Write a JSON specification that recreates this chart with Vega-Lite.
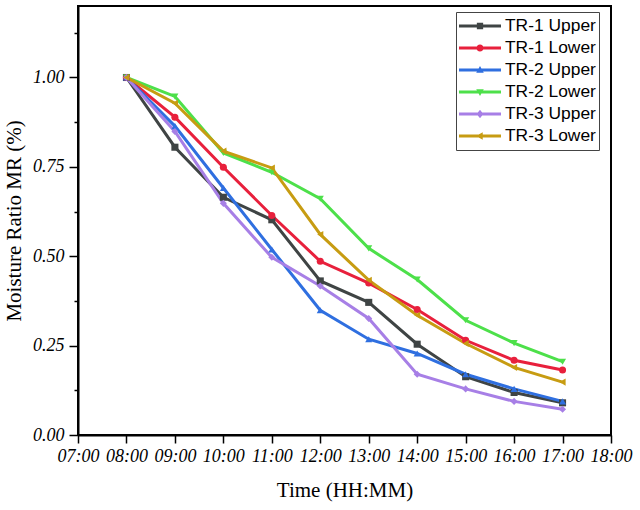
{
  "$schema": "https://vega.github.io/schema/vega-lite/v6.json",
  "width": 533,
  "height": 429,
  "autosize": "none",
  "padding": {"left": 78, "top": 6, "right": 29, "bottom": 75},
  "background": "white",
  "data": {
    "values": [
      {"hour": 8, "series": "TR-1 Upper", "mr": 1.0},
      {"hour": 9, "series": "TR-1 Upper", "mr": 0.805},
      {"hour": 10, "series": "TR-1 Upper", "mr": 0.665},
      {"hour": 11, "series": "TR-1 Upper", "mr": 0.602},
      {"hour": 12, "series": "TR-1 Upper", "mr": 0.431},
      {"hour": 13, "series": "TR-1 Upper", "mr": 0.371},
      {"hour": 14, "series": "TR-1 Upper", "mr": 0.254},
      {"hour": 15, "series": "TR-1 Upper", "mr": 0.163},
      {"hour": 16, "series": "TR-1 Upper", "mr": 0.119},
      {"hour": 17, "series": "TR-1 Upper", "mr": 0.09},
      {"hour": 8, "series": "TR-1 Lower", "mr": 1.0},
      {"hour": 9, "series": "TR-1 Lower", "mr": 0.889},
      {"hour": 10, "series": "TR-1 Lower", "mr": 0.749},
      {"hour": 11, "series": "TR-1 Lower", "mr": 0.614},
      {"hour": 12, "series": "TR-1 Lower", "mr": 0.486},
      {"hour": 13, "series": "TR-1 Lower", "mr": 0.425},
      {"hour": 14, "series": "TR-1 Lower", "mr": 0.351},
      {"hour": 15, "series": "TR-1 Lower", "mr": 0.265},
      {"hour": 16, "series": "TR-1 Lower", "mr": 0.209},
      {"hour": 17, "series": "TR-1 Lower", "mr": 0.182},
      {"hour": 8, "series": "TR-2 Upper", "mr": 1.0},
      {"hour": 9, "series": "TR-2 Upper", "mr": 0.864},
      {"hour": 10, "series": "TR-2 Upper", "mr": 0.691},
      {"hour": 11, "series": "TR-2 Upper", "mr": 0.519},
      {"hour": 12, "series": "TR-2 Upper", "mr": 0.349},
      {"hour": 13, "series": "TR-2 Upper", "mr": 0.268},
      {"hour": 14, "series": "TR-2 Upper", "mr": 0.228},
      {"hour": 15, "series": "TR-2 Upper", "mr": 0.17},
      {"hour": 16, "series": "TR-2 Upper", "mr": 0.129},
      {"hour": 17, "series": "TR-2 Upper", "mr": 0.094},
      {"hour": 8, "series": "TR-2 Lower", "mr": 1.0},
      {"hour": 9, "series": "TR-2 Lower", "mr": 0.947},
      {"hour": 10, "series": "TR-2 Lower", "mr": 0.789},
      {"hour": 11, "series": "TR-2 Lower", "mr": 0.735},
      {"hour": 12, "series": "TR-2 Lower", "mr": 0.661},
      {"hour": 13, "series": "TR-2 Lower", "mr": 0.522},
      {"hour": 14, "series": "TR-2 Lower", "mr": 0.435},
      {"hour": 15, "series": "TR-2 Lower", "mr": 0.321},
      {"hour": 16, "series": "TR-2 Lower", "mr": 0.257},
      {"hour": 17, "series": "TR-2 Lower", "mr": 0.205},
      {"hour": 8, "series": "TR-3 Upper", "mr": 1.0},
      {"hour": 9, "series": "TR-3 Upper", "mr": 0.849},
      {"hour": 10, "series": "TR-3 Upper", "mr": 0.648},
      {"hour": 11, "series": "TR-3 Upper", "mr": 0.497},
      {"hour": 12, "series": "TR-3 Upper", "mr": 0.417},
      {"hour": 13, "series": "TR-3 Upper", "mr": 0.326},
      {"hour": 14, "series": "TR-3 Upper", "mr": 0.17},
      {"hour": 15, "series": "TR-3 Upper", "mr": 0.129},
      {"hour": 16, "series": "TR-3 Upper", "mr": 0.094},
      {"hour": 17, "series": "TR-3 Upper", "mr": 0.072},
      {"hour": 8, "series": "TR-3 Lower", "mr": 1.0},
      {"hour": 9, "series": "TR-3 Lower", "mr": 0.928},
      {"hour": 10, "series": "TR-3 Lower", "mr": 0.794},
      {"hour": 11, "series": "TR-3 Lower", "mr": 0.747},
      {"hour": 12, "series": "TR-3 Lower", "mr": 0.561},
      {"hour": 13, "series": "TR-3 Lower", "mr": 0.433},
      {"hour": 14, "series": "TR-3 Lower", "mr": 0.335},
      {"hour": 15, "series": "TR-3 Lower", "mr": 0.256},
      {"hour": 16, "series": "TR-3 Lower", "mr": 0.189},
      {"hour": 17, "series": "TR-3 Lower", "mr": 0.148}
    ]
  },
  "config": {
    "view": {"stroke": "black", "strokeWidth": 2},
    "axis": {
      "grid": false,
      "domainColor": "black",
      "domainWidth": 2,
      "tickColor": "black",
      "tickWidth": 1.5,
      "labelFont": "Liberation Serif",
      "labelFontStyle": "italic",
      "labelFontSize": 18,
      "labelColor": "black",
      "titleFont": "Liberation Serif",
      "titleFontSize": 21,
      "titleFontWeight": "normal",
      "titleColor": "black"
    }
  },
  "layer": [
    {
      "mark": {"type": "line", "strokeWidth": 3},
      "encoding": {
        "x": {
          "field": "hour",
          "type": "quantitative",
          "scale": {"domain": [7, 18], "nice": false, "zero": false},
          "axis": {
            "title": "Time (HH:MM)",
            "values": [7, 7.5, 8, 8.5, 9, 9.5, 10, 10.5, 11, 11.5, 12, 12.5, 13, 13.5, 14, 14.5, 15, 15.5, 16, 16.5, 17, 17.5, 18],
            "labelExpr": "datum.value % 1 === 0 ? (datum.value < 10 ? '0' : '') + datum.value + ':00' : ''",
            "tickSize": {"condition": {"test": "datum.value % 1 !== 0", "value": 4}, "value": 8},
            "labelPadding": 4,
            "labelFlush": false,
            "labelOverlap": false,
            "titlePadding": 14
          }
        },
        "y": {
          "field": "mr",
          "type": "quantitative",
          "scale": {"domain": [0, 1.2], "nice": false},
          "axis": {
            "title": "Moisture Ratio MR (%)",
            "values": [0, 0.125, 0.25, 0.375, 0.5, 0.625, 0.75, 0.875, 1, 1.125],
            "labelExpr": "(datum.value * 4) % 1 === 0 ? format(datum.value, '.2f') : ''",
            "tickSize": {"condition": {"test": "(datum.value * 4) % 1 !== 0", "value": 4}, "value": 9},
            "labelPadding": 5,
            "labelFlush": false,
            "labelOverlap": false,
            "titlePadding": 8
          }
        },
        "color": {
          "field": "series",
          "type": "nominal",
          "scale": {
            "domain": ["TR-1 Upper", "TR-1 Lower", "TR-2 Upper", "TR-2 Lower", "TR-3 Upper", "TR-3 Lower"],
            "range": ["#3f4444", "#e8203c", "#2f6fe0", "#4de04a", "#a77fe6", "#c79c12"]
          },
          "legend": null
        }
      }
    },
    {
      "mark": {"type": "point", "filled": true, "size": 50, "opacity": 1},
      "encoding": {
        "x": {"field": "hour", "type": "quantitative"},
        "y": {"field": "mr", "type": "quantitative"},
        "color": {
          "field": "series",
          "type": "nominal",
          "scale": {
            "domain": ["TR-1 Upper", "TR-1 Lower", "TR-2 Upper", "TR-2 Lower", "TR-3 Upper", "TR-3 Lower"],
            "range": ["#3f4444", "#e8203c", "#2f6fe0", "#4de04a", "#a77fe6", "#c79c12"]
          },
          "legend": null
        },
        "shape": {
          "field": "series",
          "type": "nominal",
          "scale": {
            "domain": ["TR-1 Upper", "TR-1 Lower", "TR-2 Upper", "TR-2 Lower", "TR-3 Upper", "TR-3 Lower"],
            "range": ["square", "circle", "triangle-up", "triangle-down", "diamond", "triangle-left"]
          },
          "legend": null
        }
      }
    },
    {
      "mark": {"type": "point", "filled": true, "size": 0, "opacity": 1},
      "encoding": {
        "x": {"field": "hour", "type": "quantitative"},
        "y": {"field": "mr", "type": "quantitative"},
        "color": {
          "field": "series",
          "type": "nominal",
          "scale": {
            "domain": ["TR-1 Upper", "TR-1 Lower", "TR-2 Upper", "TR-2 Lower", "TR-3 Upper", "TR-3 Lower"],
            "range": ["#3f4444", "#e8203c", "#2f6fe0", "#4de04a", "#a77fe6", "#c79c12"]
          },
          "legend": {
            "title": null,
            "orient": "none",
            "legendX": 378,
            "legendY": 6,
            "padding": 3,
            "strokeColor": "#444444",
            "fillColor": "white",
            "labelFont": "Liberation Sans",
            "labelFontSize": 17.4,
            "labelColor": "black",
            "labelOffset": 4,
            "rowPadding": 0,
            "clipHeight": 22,
            "symbolSize": 1764,
            "symbolOpacity": 1,
            "symbolStrokeWidth": 0
          }
        },
        "shape": {
          "field": "series",
          "type": "nominal",
          "scale": {
            "domain": ["TR-1 Upper", "TR-1 Lower", "TR-2 Upper", "TR-2 Lower", "TR-3 Upper", "TR-3 Lower"],
            "range": [
              "M-1,-0.07H1V0.07H-1Z M-0.15,-0.15H0.15V0.15H-0.15Z",
              "M-1,-0.07H1V0.07H-1Z M-0.17,0A0.17,0.17 0 1 1 0.17,0A0.17,0.17 0 1 1 -0.17,0Z",
              "M-1,-0.07H1V0.07H-1Z M0,-0.19L0.18,0.13L-0.18,0.13Z",
              "M-1,-0.07H1V0.07H-1Z M0,0.19L-0.18,-0.13L0.18,-0.13Z",
              "M-1,-0.07H1V0.07H-1Z M0,-0.2L0.16,0L0,0.2L-0.16,0Z",
              "M-1,-0.07H1V0.07H-1Z M-0.19,0L0.13,-0.18L0.13,0.18Z"
            ]
          },
          "legend": {
            "title": null,
            "orient": "none",
            "legendX": 378,
            "legendY": 6
          }
        }
      }
    }
  ],
  "resolve": {"scale": {"shape": "independent", "color": "independent"}}
}
